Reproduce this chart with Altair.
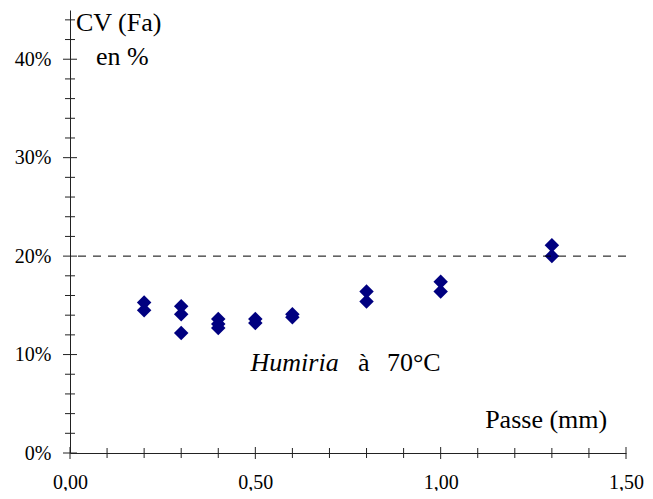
import altair as alt
import pandas as pd

# ---- data ----
passe_mm = [0.2, 0.2, 0.3, 0.3, 0.3, 0.4, 0.4, 0.4, 0.5, 0.5, 0.6, 0.6,
            0.8, 0.8, 1.0, 1.0, 1.3, 1.3]
cv_fa = [0.153, 0.145, 0.149, 0.141, 0.122, 0.136, 0.131, 0.127, 0.136, 0.132,
         0.141, 0.138, 0.164, 0.154, 0.174, 0.164, 0.211, 0.200]

reference_level = [0.20]

y_major = [0.0, 0.1, 0.2, 0.3, 0.4]
y_minor = [0.02, 0.04, 0.06, 0.08, 0.12, 0.14, 0.16, 0.18, 0.22, 0.24, 0.26,
           0.28, 0.32, 0.34, 0.36, 0.38, 0.42, 0.44]
x_major = [0.0, 0.5, 1.0, 1.5]
x_minor = [0.1, 0.2, 0.3, 0.4, 0.6, 0.7, 0.8, 0.9, 1.1, 1.2, 1.3, 1.4]

ann_text = ["CV (Fa)", "en %", "à", "70°C", "Passe (mm)"]
ann_x = [0.016, 0.07, 0.777, 0.855, 1.12]
ann_y = [0.429, 0.394, 0.083, 0.083, 0.0255]
italic_text = ["Humiria"]
italic_x = [0.487]
italic_y = [0.083]

W, H = 556, 443
FONT = "Liberation Serif"
X_DOM = [0, 1.5]
Y_DOM = [0, 0.45]

xs = alt.Scale(domain=X_DOM, nice=False, zero=True)
ys = alt.Scale(domain=Y_DOM, nice=False, zero=True)

x_axis = alt.Axis(
    values=x_major, ticks=False, tickSize=0, grid=False,
    labelExpr="replace(format(datum.value, '.2f'), '.', ',')",
    labelPadding=19, labelFont=FONT, labelFontSize=20, labelColor="black",
    domainColor="#222", title=None, labelFlush=False)
y_axis = alt.Axis(
    values=y_major, ticks=False, tickSize=0, grid=False, format=".0%",
    labelPadding=19, labelFont=FONT, labelFontSize=20, labelColor="black",
    domainColor="#222", title=None, labelFlush=False)

pts = pd.DataFrame({"passe": passe_mm, "cv": cv_fa})

points = alt.Chart(pts).mark_point(
    shape="diamond", filled=True, size=210, color="#000080", opacity=1
).encode(
    x=alt.X("passe:Q", scale=xs, axis=x_axis),
    y=alt.Y("cv:Q", scale=ys, axis=y_axis),
)

dash = alt.Chart(pd.DataFrame({"lvl": reference_level})).mark_rule(
    color="black", strokeWidth=1, strokeDash=[8, 7]
).encode(y=alt.Y("lvl:Q", scale=ys, axis=y_axis))

def yticks(vals, half):
    return alt.Chart(pd.DataFrame({"t": vals})).mark_rule(
        color="#222", strokeWidth=1
    ).encode(y=alt.Y("t:Q", scale=ys, axis=y_axis),
             x=alt.value(-half), x2=alt.value(half))

def xticks(vals, half):
    return alt.Chart(pd.DataFrame({"t": vals})).mark_rule(
        color="#222", strokeWidth=1
    ).encode(x=alt.X("t:Q", scale=xs, axis=x_axis),
             y=alt.value(H - half), y2=alt.value(H + half))

ann = alt.Chart(pd.DataFrame({"t": ann_text, "x": ann_x, "y": ann_y})).mark_text(
    font=FONT, fontSize=26, align="left", baseline="alphabetic", color="black"
).encode(x=alt.X("x:Q", scale=xs, axis=x_axis),
         y=alt.Y("y:Q", scale=ys, axis=y_axis), text="t:N")

ann_it = alt.Chart(pd.DataFrame({"t": italic_text, "x": italic_x, "y": italic_y})).mark_text(
    font=FONT, fontSize=26, fontStyle="italic", align="left",
    baseline="alphabetic", color="black"
).encode(x=alt.X("x:Q", scale=xs, axis=x_axis),
         y=alt.Y("y:Q", scale=ys, axis=y_axis), text="t:N")

chart = alt.layer(
    points, dash, yticks(y_minor, 5), yticks(y_major, 7), xticks(x_minor, 5),
    xticks(x_major, 6), ann, ann_it
).properties(
    width=W, height=H,
    padding={"left": 62, "top": 2, "right": 19, "bottom": 38},
    autosize=alt.AutoSizeParams(type="none"),
    background="white",
).configure_view(strokeWidth=0, stroke="transparent")

chart.save("out.html", embed_options={"renderer": "svg", "actions": False})
